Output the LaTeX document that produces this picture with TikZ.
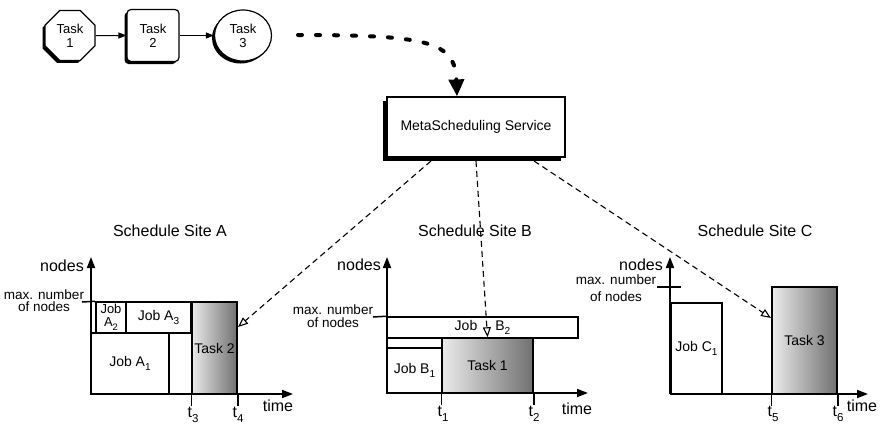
\documentclass[tikz,border=0pt]{standalone}
\usepackage{fontspec}
\usepackage{graphicx}
\setmainfont{Liberation Sans}
\usetikzlibrary{arrows.meta,shapes.geometric,shadows}

% subscript set low, as in the labels of the charts
\newcommand\lowsub[1]{\raisebox{-0.3em}{\scalebox{0.72}{#1}}}

\tikzset{
  taskbase/.style={draw, line width=1.2pt, fill=white, align=center, inner sep=0pt,
    font=\fontsize{13}{14}\selectfont,
    general shadow={fill=black, shadow xshift=-2.5pt, shadow yshift=-2.5pt}},
  flowarrow/.style={line width=1pt, -{Triangle[length=8pt,width=6pt]}},
  metabox/.style={draw, line width=1.2pt, fill=white, inner sep=0pt,
    minimum width=178pt, minimum height=60pt, font=\fontsize{14}{16}\selectfont,
    general shadow={fill=black, shadow xshift=-4pt, shadow yshift=-4pt}},
  dispatch/.style={line width=1.1pt, dash pattern=on 6pt off 4pt,
    -{Triangle[open, length=10pt, width=8pt, line width=1.1pt]}},
  jobbox/.style={draw, line width=1.5pt, fill=white, inner sep=0pt, align=center,
    font=\fontsize{14}{15}\selectfont},
  smalljob/.style={jobbox, font=\fontsize{13}{13}\selectfont},
  schedtask/.style={jobbox, left color=black!8, right color=black!56},
  chartaxis/.style={line width=1.8pt, -{Triangle[length=11pt,width=8pt]}},
  tmark/.style={line width=1.5pt},
  bigtext/.style={font=\fontsize{16}{18}\selectfont, inner sep=0pt},
  limtext/.style={font=\fontsize{13.5}{12.5}\selectfont, align=center, inner sep=0pt},
}

\begin{document}
\begin{tikzpicture}[x=1pt,y=-1pt]
\useasboundingbox (0,0) rectangle (880,426);

% ---------------- workflow of three tasks ----------------
\node[taskbase, regular polygon, regular polygon sides=8, minimum size=54pt] (t1) at (70,35.5) {Task\\1};
\node[taskbase, rectangle, rounded corners=4pt, minimum width=52pt, minimum height=52pt] (t2) at (153,35.5) {Task\\2};
\node[taskbase, ellipse, minimum width=57pt, minimum height=51pt] (t3) at (243,35.5) {Task\\3};
\draw[flowarrow] (t1) -- (t2);
\draw[flowarrow] (t2) -- (t3);

% ---------------- meta scheduler ----------------
\node[metabox] (meta) at (476,127) {MetaScheduling Service};
\coordinate (wfout) at (298,35);
\draw[line width=4pt, line cap=round, dash pattern=on 4pt off 14pt,
      -{Triangle[length=17pt,width=15pt]}]
  (wfout) .. controls (430,35) and (455,42) .. (meta.north -| 457,0);

% ---------------- site titles ----------------
\node[bigtext] (titleA) at (170,231) {Schedule Site A};
\node[bigtext] (titleB) at (475,231) {Schedule Site B};
\node[bigtext] (titleC) at (755,231) {Schedule Site C};

% ---------------- site A ----------------
\coordinate (oA) at (91,394);
\node[jobbox, minimum width=78pt, minimum height=61pt] (jA1) at (130,363.5) {Job A\lowsub{1}};
\draw[line width=1.5pt] (jA1.north east) -- (192,333);
\node[smalljob, minimum width=30pt, minimum height=31pt] (jA2) at (111,317.5) {Job\\A\lowsub{2}};
\node[jobbox, minimum width=65pt, minimum height=31pt] (jA3) at (158.5,317.5) {Job A\lowsub{3}};
\node[schedtask, minimum width=45pt, minimum height=92pt] (sA) at (214.5,348) {Task 2};
\coordinate (limA) at (82,302);
\draw[line width=1.5pt] (limA) -- (jA2.north west);
\node[limtext] (limtxtA) at (44,300.5) {max. number\\of nodes};
\draw[chartaxis] (oA) -- (91,257);
\draw[chartaxis] (oA) -- (293,394);
\node[bigtext, anchor=east] (nodesA) at (84,266) {nodes};
\node[bigtext] (timeA) at (278,406) {time};
\draw[tmark] (sA.south west) -- ++(0,11);
\draw[tmark] (sA.south east) -- ++(0,11);
\node[bigtext, anchor=north] (t3l) at (193,407) {t\lowsub{3}};
\node[bigtext, anchor=north] (t4l) at (238,407) {t\lowsub{4}};

% ---------------- site B ----------------
\coordinate (oB) at (387,393);
\node[jobbox, minimum width=191pt, minimum height=21pt] (jB2) at (482.5,327.5) {Job\hspace{18pt}B\lowsub{2}};
\draw[line width=1.5pt] (387,338) rectangle (442,348);
\node[jobbox, minimum width=55pt, minimum height=45pt] (jB1) at (414.5,370.5) {Job B\lowsub{1}};
\node[schedtask, minimum width=91pt, minimum height=55pt] (sB) at (487.5,365.5) {Task 1};
\coordinate (limB) at (373,317);
\draw[line width=1.5pt] (limB) -- (jB2.north west);
\node[limtext] (limtxtB) at (333,316) {max. number\\of nodes};
\draw[chartaxis] (oB) -- (387,257);
\draw[chartaxis] (oB) -- (588,393);
\node[bigtext, anchor=east] (nodesB) at (381,265) {nodes};
\node[bigtext] (timeB) at (577,409) {time};
\draw[tmark] (sB.south west) -- ++(0,11);
\draw[tmark] (sB.south east) -- ++(0,11);
\node[bigtext, anchor=north] (t1l) at (443,406) {t\lowsub{1}};
\node[bigtext, anchor=north] (t2l) at (534,406) {t\lowsub{2}};

% ---------------- site C ----------------
\coordinate (oC) at (670,394);
\node[jobbox, minimum width=51pt, minimum height=91pt] (jC1) at (696.5,348.5) {Job C\lowsub{1}};
\node[schedtask, minimum width=65pt, minimum height=107pt] (sC) at (804.5,340.5) {Task 3};
\coordinate (limC) at (657,287);
\coordinate (limCe) at (681,287);
\draw[line width=1.5pt] (limC) -- (limCe);
\node[limtext, font=\fontsize{13.5}{16.5}\selectfont] (limtxtC) at (616,288) {max. number\\of nodes};
\draw[chartaxis] (oC) -- (670,257);
\draw[chartaxis] (oC) -- (868,394);
\node[bigtext, anchor=east] (nodesC) at (663,265) {nodes};
\node[bigtext] (timeC) at (862,406) {time};
\draw[tmark] (sC.south west) -- ++(0,11);
\draw[tmark] (sC.south east) -- ++(0,11);
\node[bigtext, anchor=north] (t5l) at (773,406) {t\lowsub{5}};
\node[bigtext, anchor=north] (t6l) at (838,406) {t\lowsub{6}};

% ---------------- dispatch to the sites ----------------
\coordinate (dA) at (431,161);
\coordinate (dB) at (476,161);
\coordinate (dC) at (534,161);
\coordinate (inA) at (238,327);
\coordinate (inC) at (771,318);
\draw[dispatch] (dA) -- (inA);
\draw[dispatch] (dB) -- (sB.north);
\draw[dispatch] (dC) -- (inC);
\end{tikzpicture}
\end{document}
